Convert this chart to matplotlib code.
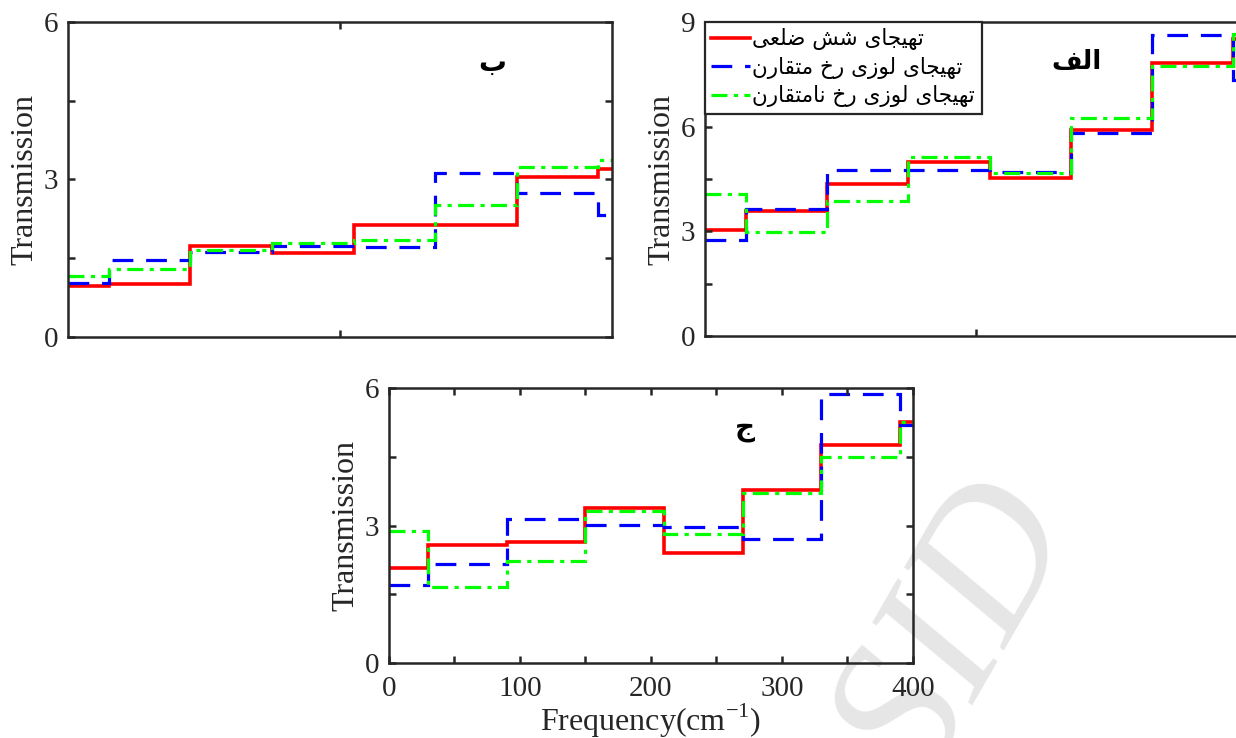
import matplotlib
matplotlib.use("Agg")
import matplotlib.pyplot as plt

plt.rcParams['font.family'] = ['Liberation Serif', 'DejaVu Sans']
plt.rcParams['mathtext.fontset'] = 'custom'
plt.rcParams['mathtext.rm'] = 'Liberation Serif'

# step edges (cm^-1), same for all panels
edges = [0, 30, 90, 150, 210, 270, 330, 390, 400]

# panel "الف"
a_hex = [3.05, 3.58, 4.37, 4.99, 4.54, 5.90, 7.82, 8.52]
a_sym = [2.75, 3.63, 4.77, 4.75, 4.70, 5.83, 8.64, 7.33]
a_asym = [4.06, 2.97, 3.86, 5.13, 4.66, 6.26, 7.73, 8.66]

# panel "ب"
b_hex = [0.97, 1.00, 1.73, 1.60, 2.13, 2.13, 3.05, 3.20]
b_sym = [1.03, 1.46, 1.62, 1.73, 1.71, 3.13, 2.74, 2.32]
b_asym = [1.17, 1.30, 1.65, 1.79, 1.84, 2.51, 3.23, 3.38]

# panel "ج"
c_hex = [2.08, 2.57, 2.65, 3.39, 2.41, 3.78, 4.75, 5.25]
c_sym = [1.71, 2.15, 3.14, 3.01, 2.97, 2.70, 5.87, 5.20]
c_asym = [2.89, 1.65, 2.22, 3.32, 2.81, 3.72, 4.50, 5.25]

labels = ['تهیجای شش ضلعی', 'تهیجای لوزی رخ متقارن', 'تهیجای لوزی رخ نامتقارن']

# isolated, final, initial, medial presentation forms
FORMS = {
    'ا': ('\ufe8d', '\ufe8e', None, None),
    'ب': ('\ufe8f', '\ufe90', '\ufe91', '\ufe92'),
    'ت': ('\ufe95', '\ufe96', '\ufe97', '\ufe98'),
    'ج': ('\ufe9d', '\ufe9e', '\ufe9f', '\ufea0'),
    'خ': ('\ufea5', '\ufea6', '\ufea7', '\ufea8'),
    'ر': ('\ufead', '\ufeae', None, None),
    'ز': ('\ufeaf', '\ufeb0', None, None),
    'ش': ('\ufeb5', '\ufeb6', '\ufeb7', '\ufeb8'),
    'ض': ('\ufebd', '\ufebe', '\ufebf', '\ufec0'),
    'ع': ('\ufec9', '\ufeca', '\ufecb', '\ufecc'),
    'ف': ('\ufed1', '\ufed2', '\ufed3', '\ufed4'),
    'ق': ('\ufed5', '\ufed6', '\ufed7', '\ufed8'),
    'ل': ('\ufedd', '\ufede', '\ufedf', '\ufee0'),
    'م': ('\ufee1', '\ufee2', '\ufee3', '\ufee4'),
    'ن': ('\ufee5', '\ufee6', '\ufee7', '\ufee8'),
    'ه': ('\ufee9', '\ufeea', '\ufeeb', '\ufeec'),
    'و': ('\ufeed', '\ufeee', None, None),
    'ی': ('\ufbfc', '\ufbfd', '\ufbfe', '\ufbff'),
}


def shape(s):
    out = []
    for i, ch in enumerate(s):
        if ch not in FORMS:
            out.append(ch)
            continue
        f = FORMS[ch]
        prev = s[i - 1] if i > 0 else ''
        nxt = s[i + 1] if i + 1 < len(s) else ''
        jp = prev in FORMS and FORMS[prev][2] is not None
        jn = f[2] is not None and nxt in FORMS
        if jp and jn:
            out.append(f[3])
        elif jp:
            out.append(f[1])
        elif jn:
            out.append(f[2])
        else:
            out.append(f[0])
    return ''.join(out[::-1])


spine_c = '#262626'
styles = [dict(color='#ff0000', ls='-', lw=2.6),
          dict(color='#0000ff', ls=(0, (6.5, 4)), lw=2.3),
          dict(color='#00ff00', ls=(0, (5, 2, 1.3, 2)), lw=2.3)]

fig = plt.figure(figsize=(12.36, 7.38), dpi=100)

# faint watermark, behind everything
fig.text(0.875, 0.275, 'Archive of SID', rotation=60, rotation_mode='anchor',
         ha='right', va='baseline', fontsize=140, style='italic',
         color='#e6e6e6', zorder=-5)

ax_b = fig.add_axes([0.0550, 0.5434, 0.4401, 0.4268])
ax_a = fig.add_axes([0.5704, 0.5447, 0.4385, 0.4255])
ax_c = fig.add_axes([0.3147, 0.1016, 0.4239, 0.3726])


def style(ax, ymax, xt, xlab):
    ax.set_facecolor('none')
    for s in ax.spines.values():
        s.set_color(spine_c)
        s.set_linewidth(1.8)
    ax.set_xlim(0, 400)
    ax.set_ylim(0, ymax)
    yt = [i * 1.5 for i in range(int(ymax / 1.5) + 1)]
    ax.set_yticks(yt)
    ax.set_yticklabels(['%g' % v if v % 3 == 0 else '' for v in yt])
    ax.set_xticks(xt)
    if xlab:
        ax.set_xticklabels(['%g' % v if v % 100 == 0 else '' for v in xt])
    else:
        ax.set_xticklabels([])
    ax.tick_params(direction='in', length=5, width=1.8, color=spine_c,
                   top=True, right=True, labelsize=21, labelcolor='#262626')
    ax.tick_params(axis='y', pad=7)
    ax.tick_params(axis='x', pad=9)
    ax.set_ylabel('Transmission', fontsize=23, labelpad=3, color='#262626')


for ax, data in [(ax_b, (b_hex, b_sym, b_asym)),
                 (ax_a, (a_hex, a_sym, a_asym)),
                 (ax_c, (c_hex, c_sym, c_asym))]:
    for vals, st, lab in zip(data, styles, labels):
        ax.stairs(vals, edges, baseline=None, label=shape(lab), **st)

style(ax_b, 6, [200], False)
style(ax_a, 9, [200], False)
style(ax_c, 6, list(range(0, 401, 50)), True)
ax_c.set_xlabel('Frequency(cm$^{-1}$)', fontsize=23, labelpad=0,
                color='#262626')

ax_b.text(0.78, 0.87, shape('ب'), transform=ax_b.transAxes, fontsize=20,
          fontweight='bold', family='DejaVu Sans', ha='center', va='center')
ax_a.text(274, 7.85, shape('الف'), fontsize=19, fontweight='bold',
          family='DejaVu Sans', ha='center', va='center')
ax_c.text(272, 5.12, shape('ج'), fontsize=20, fontweight='bold',
          family='DejaVu Sans', ha='center', va='center')

leg = ax_a.legend(loc='upper left', bbox_to_anchor=(0, 1), borderaxespad=0,
                  prop={'family': 'DejaVu Sans', 'size': 15.5},
                  handlelength=1.8, handletextpad=0.1, labelspacing=0.3,
                  borderpad=0.3, fancybox=False, framealpha=1)
leg.get_frame().set_edgecolor(spine_c)
leg.get_frame().set_linewidth(1.6)

fig.savefig('out.png', dpi=100)
